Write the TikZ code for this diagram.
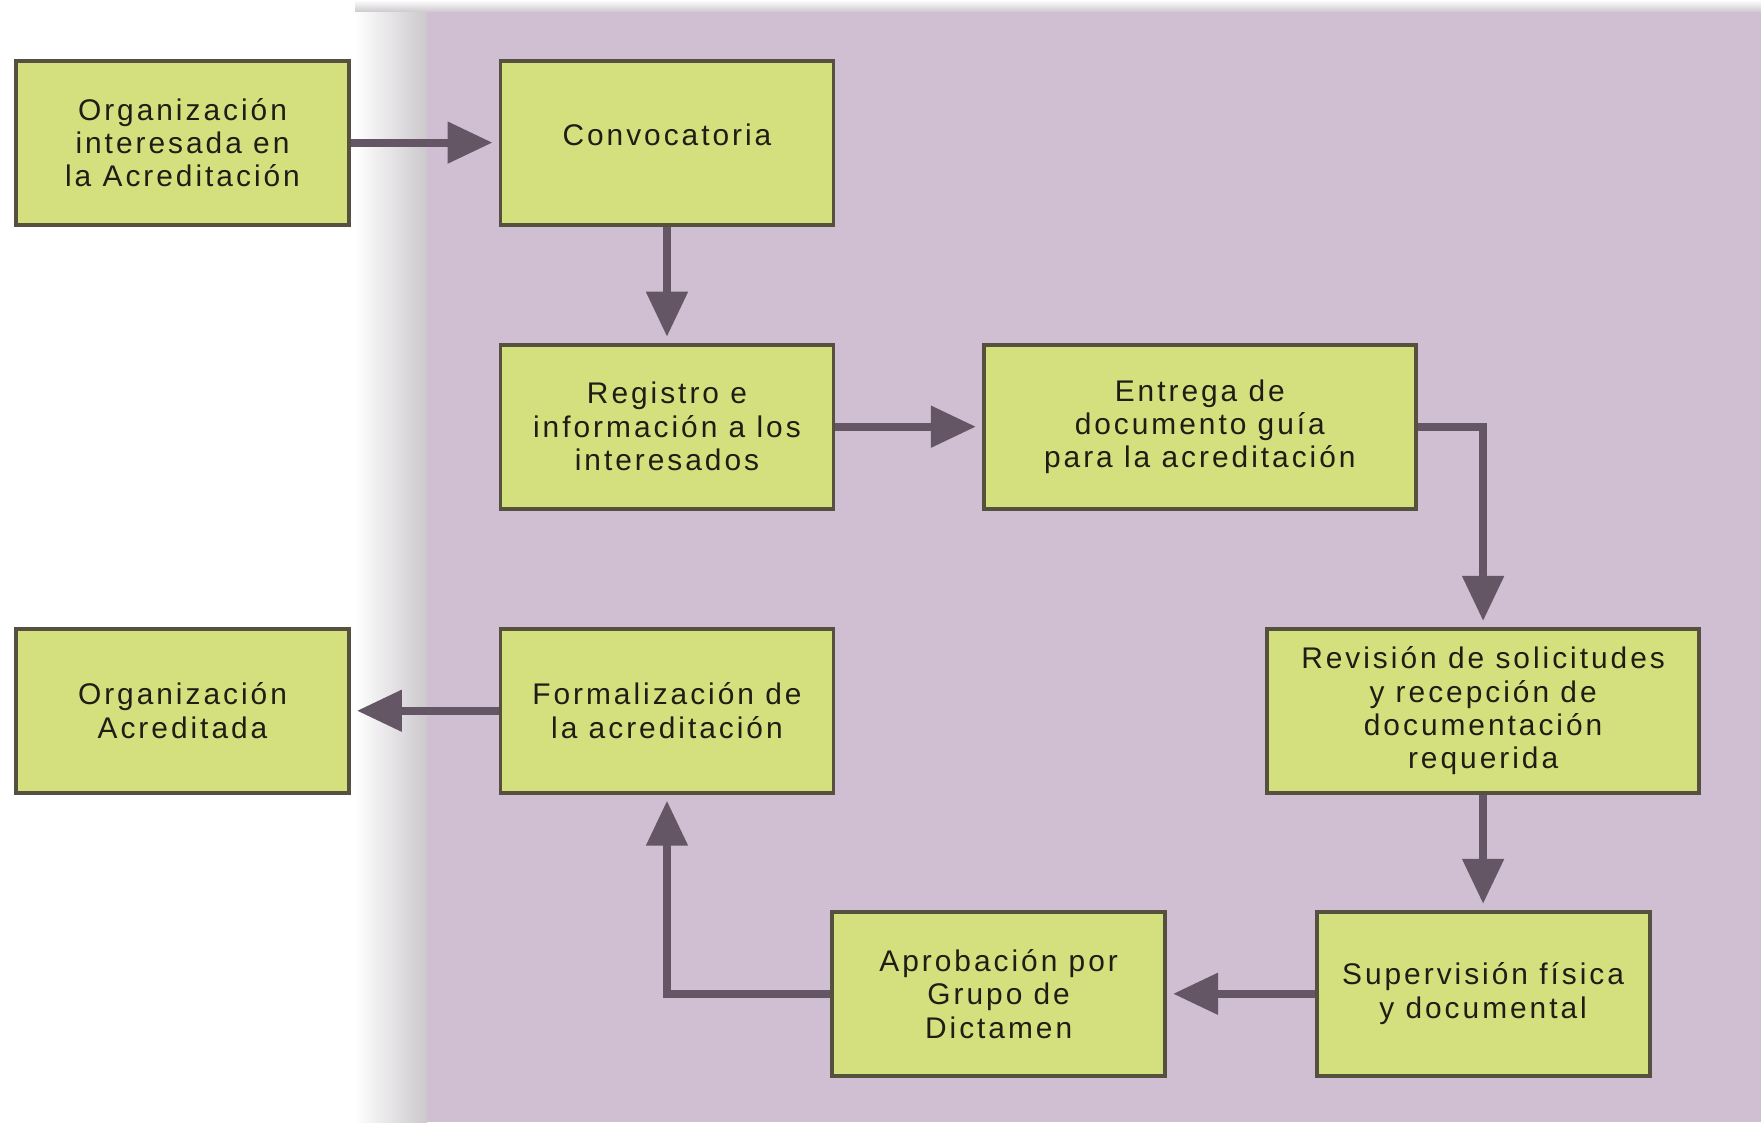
\documentclass[tikz,border=0pt]{standalone}
\usepackage{fontspec}
\usepackage{xcolor}
\usetikzlibrary{positioning,arrows.meta}
\newfontfamily\pasofont[LetterSpace=10]{Liberation Sans}
\definecolor{panelpurple}{RGB}{208,190,210}
\definecolor{shadowgray}{RGB}{204,200,204}
\definecolor{boxfill}{RGB}{212,224,126}
\definecolor{boxline}{RGB}{86,80,62}
\definecolor{boxtext}{RGB}{30,30,20}
\definecolor{arrowgray}{RGB}{100,86,100}
\tikzset{
  paso/.style={ % image of one step of the process
    rectangle, draw=boxline, line width=1.1pt, fill=boxfill,
    minimum width=3.33cm, minimum height=1.64cm,
    inner sep=2pt, align=center, text=boxtext,
    font=\pasofont\fontsize{8.5pt}{9.5pt}\selectfont
  },
  pasoancho/.style={ % wider step box
    paso, minimum width=4.32cm
  },
  flecha/.style={ % connector between two steps
    draw=arrowgray, line width=2.3pt,
    -{Triangle[length=0.45cm,width=0.40cm]}, shorten >=0.06cm
  }
}
\begin{document}
\begin{tikzpicture}
    \useasboundingbox (0,0) rectangle (17.61,-11.22);
    % background panel
    \shade[top color=white, bottom color=shadowgray] (3.55,0) rectangle (17.61,-0.12);
    \shade[left color=white, right color=shadowgray] (3.55,-0.12) rectangle (4.27,-11.22);
    \fill[panelpurple] (4.27,-0.12) rectangle (17.61,-11.22);

    \node[paso] (org) at (1.825,-1.426) {Organización\\interesada en\\la Acreditación};
    \node[paso] (conv) [right=1.476cm of org] {\raisebox{0.16cm}{Convocatoria}};
    \node[paso] (reg) [below=1.162cm of conv] {Registro e\\información a los\\interesados};
    \node[pasoancho] (ent) [right=1.465cm of reg] {Entrega de\\documento guía\\para la acreditación};
    \node[pasoancho] (rev) at (14.831,-7.109) {Revisión de solicitudes\\y recepción de\\documentación\\requerida};
    \node[paso] (sup) [below=1.15cm of rev] {Supervisión física\\y documental};
    \node[paso] (apr) [left=1.476cm of sup] {Aprobación por\\Grupo de\\Dictamen};
    \node[paso] (form) [below=1.162cm of reg] {Formalización de\\la acreditación};
    \node[paso] (acred) [left=1.476cm of form] {Organización\\Acreditada};

    \draw[flecha] (org) -- (conv);
    \draw[flecha] (conv) -- (reg);
    \draw[flecha] (reg) -- (ent);
    \draw[flecha] (ent.east) -| (rev.north);
    \draw[flecha] (rev) -- (sup);
    \draw[flecha] (sup) -- (apr);
    \draw[flecha] (apr.west) -| (form.south);
    \draw[flecha] (form) -- (acred);
\end{tikzpicture}
\end{document}
